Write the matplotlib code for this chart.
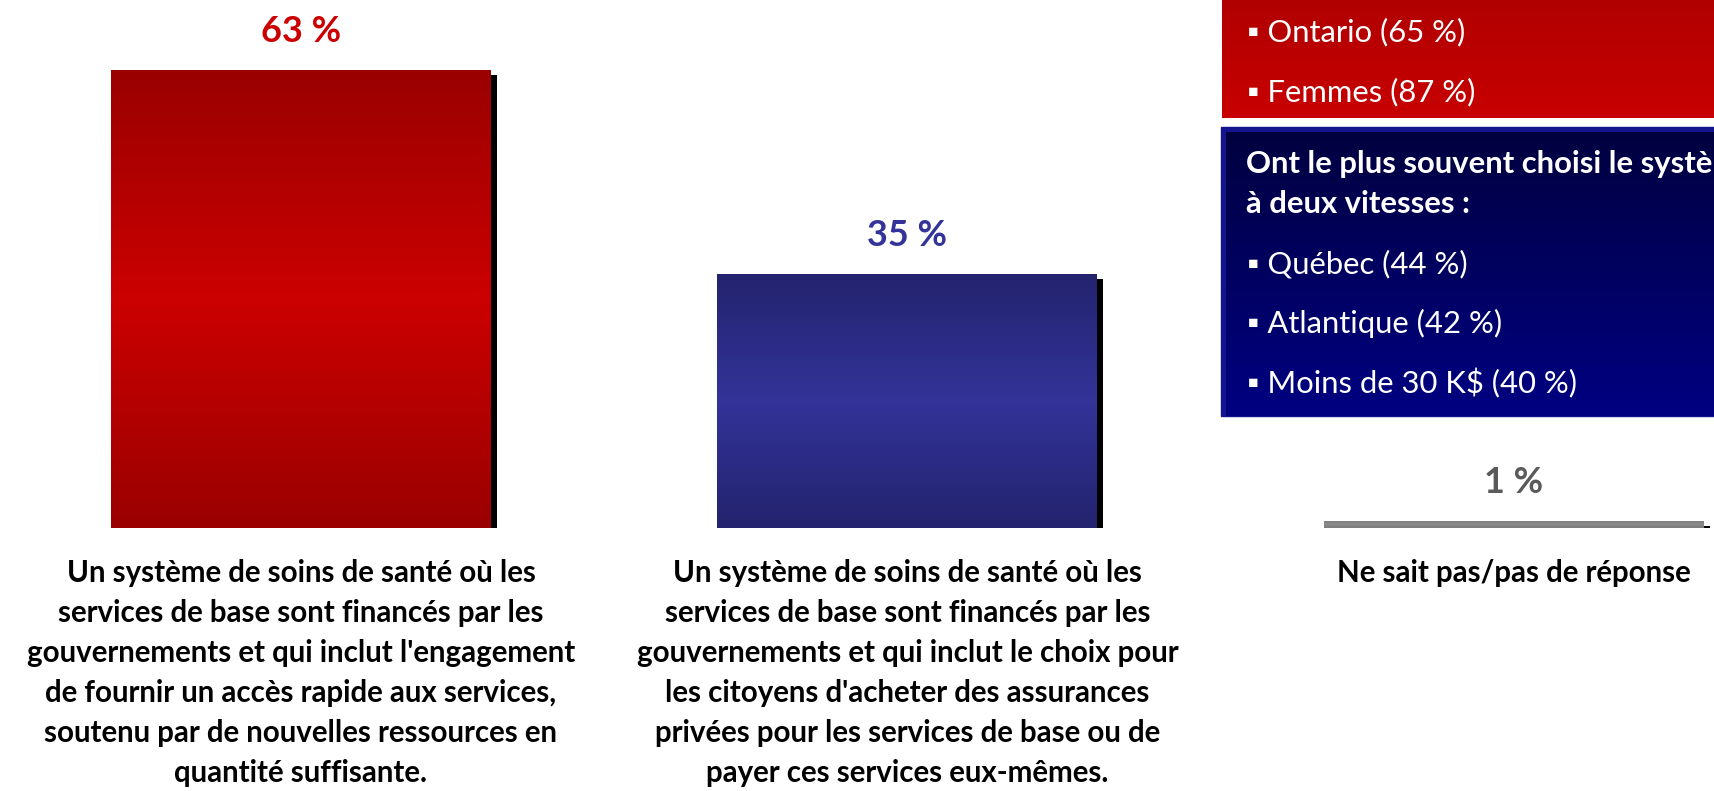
import numpy as np
import matplotlib.pyplot as plt
from matplotlib.patches import Rectangle
from matplotlib.colors import LinearSegmentedColormap

plt.rcParams['font.family'] = ['Lato', 'DejaVu Sans']

# data
categories = [
    "Un système de soins de santé où les\nservices de base sont financés par les\n"
    "gouvernements et qui inclut l'engagement\nde fournir un accès rapide aux services,\n"
    "soutenu par de nouvelles ressources en\nquantité suffisante.",
    "Un système de soins de santé où les\nservices de base sont financés par les\n"
    "gouvernements et qui inclut le choix pour\nles citoyens d'acheter des assurances\n"
    "privées pour les services de base ou de\npayer ces services eux-mêmes.",
    "Ne sait pas/pas de réponse",
]
values = [63, 35, 1]
value_labels = ["63 %", "35 %", "1 %"]

red_items = ["Ontario (65 %)", "Femmes (87 %)"]
blue_title = ["Ont le plus souvent choisi le système", "à deux vitesses :"]
blue_items = ["Québec (44 %)", "Atlantique (42 %)", "Moins de 30 K$ (40 %)"]

W, H = 1715, 791
PX = 72 / 100  # px -> pt

fig = plt.figure(figsize=(W / 100, H / 100), dpi=100)

# main bar axes: baseline at 528 px, 7.27 px per %
base = 528
ax = fig.add_axes([0, (H - base) / H, 1, 70 * 7.27 / H])
step = 606.5
x0 = 301
x = np.arange(len(values))
width = 380 / step
dx = 6 / step
dyt = 5 / 7.27
dyb = 2 / 7.27

grads = [
    ["#9a0000", "#cc0000", "#9a0000"],
    ["#23236e", "#333399", "#23236e"],
    ["#7a7a7a", "#8c8c8c", "#7a7a7a"],
]
label_colors = ["#cc0000", "#333399", "#5a5a5a"]

# shadows
ax.bar(x + dx, [v - dyt + dyb for v in values], bottom=-dyb, width=width,
       color="black", zorder=1)
bars = ax.bar(x, values, width=width, color=[g[1] for g in grads], zorder=2)

for b, g in zip(bars, grads):
    cmap = LinearSegmentedColormap.from_list("g", g)
    grad = np.linspace(0, 1, 256).reshape(-1, 1)
    im = ax.imshow(grad, cmap=cmap, aspect="auto", zorder=3,
                   extent=[b.get_x(), b.get_x() + b.get_width(), 0, b.get_height()])
    im.set_clip_path(b)

for xi, v, lab, c in zip(x, values, value_labels, label_colors):
    ax.annotate(lab, (xi, v), xytext=(0, 28 * PX), textcoords="offset points",
                ha="center", va="baseline", fontsize=36 * PX, fontweight="bold", color=c)

for xi, cat in zip(x, categories):
    for i, line in enumerate(cat.split("\n")):
        ax.annotate(line, (xi, 0), xytext=(0, -(54 + 40 * i) * PX),
                    textcoords="offset points", ha="center", va="baseline",
                    fontsize=29.5 * PX, fontweight="bold", color="black")

ax.set_xlim(-x0 / step, (W - x0) / step)
ax.set_ylim(0, 70)
ax.axis("off")

# overlay in pixel coords for the side boxes
ov = fig.add_axes([0, 0, 1, 1])
ov.set_xlim(0, W)
ov.set_ylim(H, 0)
ov.axis("off")

def grad_box(l, t, r, btm, top_c, bot_c):
    cmap = LinearSegmentedColormap.from_list("b", [top_c, bot_c])
    grad = np.linspace(0, 1, 256).reshape(-1, 1)
    ov.imshow(grad, cmap=cmap, aspect="auto", extent=[l, r, btm, t], zorder=2)

grad_box(1222, -5, W + 5, 118, "#b00000", "#c80000")
ov.add_patch(Rectangle((1221, 127), W - 1221 + 5, 416 - 127, color="#14148e", zorder=1))
grad_box(1226, 132, W + 5, 416, "#000040", "#000082")

for i, t in enumerate(red_items):
    ov.text(1247, 41 + 60 * i, "▪ " + t, color="white", fontsize=31 * PX,
            va="baseline", ha="left", zorder=4)
for i, t in enumerate(blue_title):
    ov.text(1246, 173 + 40 * i, t, color="white", fontsize=31 * PX,
            fontweight="bold", va="baseline", ha="left", zorder=4, clip_on=True)
for i, t in enumerate(blue_items):
    ov.text(1247, 273 + 60 * i, "▪ " + t, color="white", fontsize=31 * PX,
            va="baseline", ha="left", zorder=4)
ov.set_xlim(0, W)
ov.set_ylim(H, 0)

fig.savefig("out.png", dpi=100, facecolor="white")
